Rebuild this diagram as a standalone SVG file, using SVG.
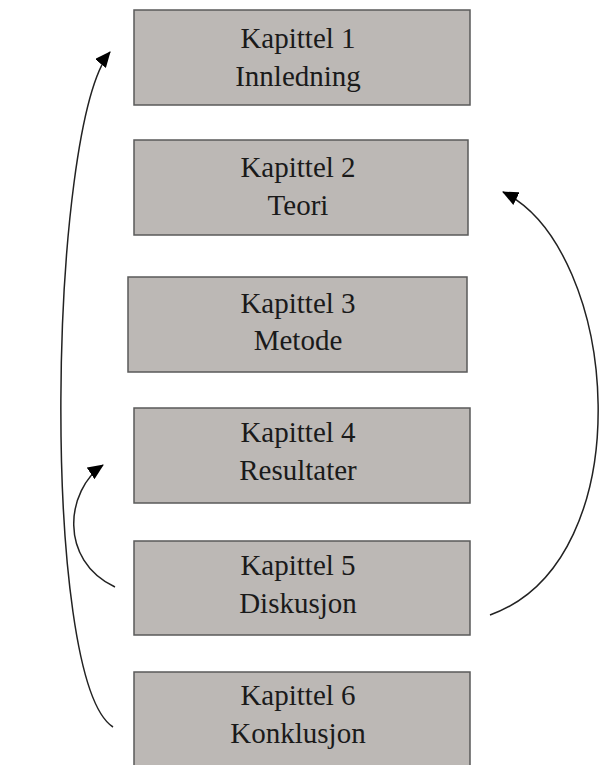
<svg xmlns="http://www.w3.org/2000/svg" width="600" height="765" viewBox="0 0 600 765">
<style>
.box{fill:#bcb8b5;stroke:#5a5a5a;stroke-width:1.5}
.t{font-family:"Liberation Serif",serif;font-size:29px;fill:#1a1a1a;text-anchor:middle}
.c{fill:none;stroke:#222;stroke-width:1.5}
</style>
<defs>
<marker id="ah" viewBox="0 0 16 14" refX="15" refY="7" markerWidth="16" markerHeight="14" markerUnits="userSpaceOnUse" orient="auto">
<path d="M0,0 L16,7 L0,14 z" fill="#000"/>
</marker>
</defs>
<rect width="600" height="765" fill="#fff"/>
<g id="k1"><rect class="box" x="134" y="10" width="336" height="95"/><text class="t" x="298" y="48">Kapittel 1</text><text class="t" x="298" y="86">Innledning</text></g>
<g id="k2"><rect class="box" x="134" y="140" width="334" height="95"/><text class="t" x="298" y="177">Kapittel 2</text><text class="t" x="298" y="215">Teori</text></g>
<g id="k3"><rect class="box" x="128" y="277" width="339" height="95"/><text class="t" x="298" y="313">Kapittel 3</text><text class="t" x="298" y="350">Metode</text></g>
<g id="k4"><rect class="box" x="134" y="408" width="336" height="95"/><text class="t" x="298" y="442">Kapittel 4</text><text class="t" x="298" y="480">Resultater</text></g>
<g id="k5"><rect class="box" x="134" y="541" width="336" height="94"/><text class="t" x="298" y="575">Kapittel 5</text><text class="t" x="298" y="613">Diskusjon</text></g>
<g id="k6"><rect class="box" x="134" y="672" width="336" height="100"/><text class="t" x="298" y="705">Kapittel 6</text><text class="t" x="298" y="743">Konklusjon</text></g>
<g id="connectors">
<path class="c" d="M113,727 C40,680 48,127 110,52" marker-end="url(#ah)"/>
<path class="c" d="M115,587 C58,560 66,490 103,465" marker-end="url(#ah)"/>
<path class="c" d="M490,615 C644,560 620,250 503,192" marker-end="url(#ah)"/>
</g>
</svg>
